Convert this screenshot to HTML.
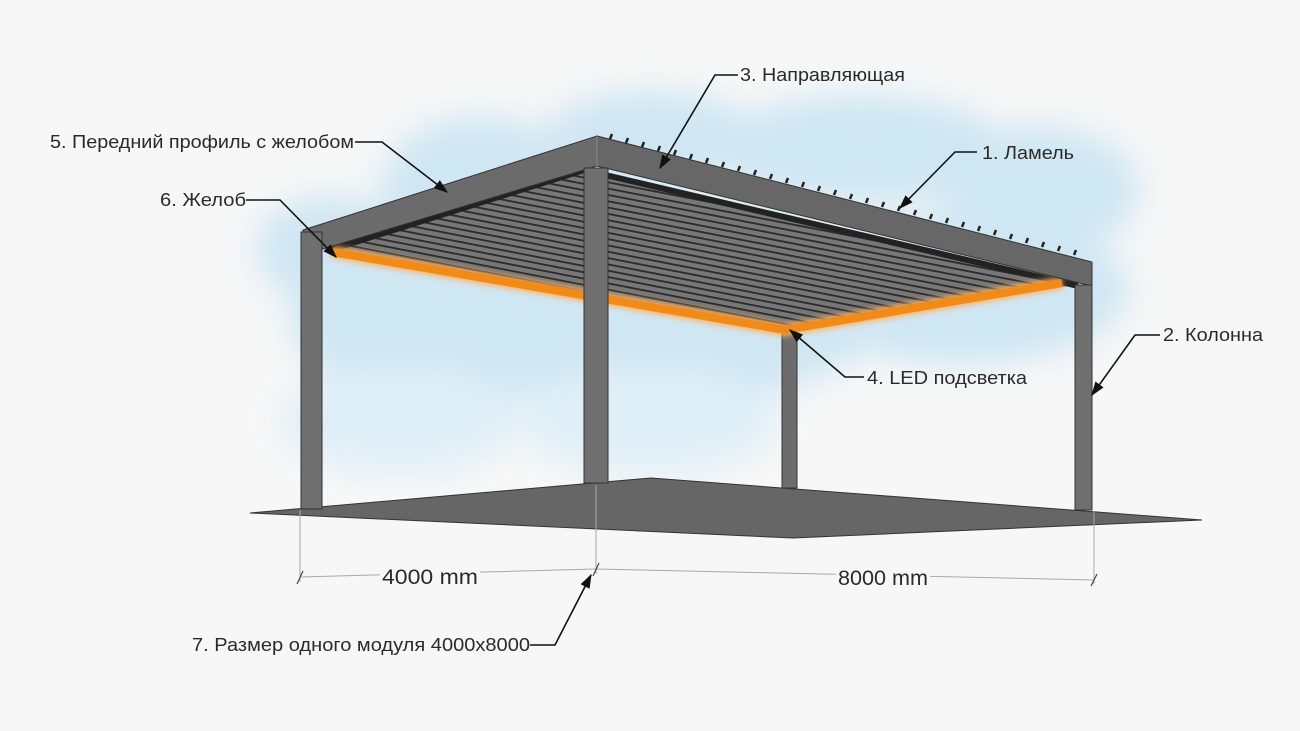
<!DOCTYPE html>
<html><head><meta charset="utf-8"><style>
html,body{margin:0;padding:0;background:#f7f7f7;}
svg{display:block}
text{font-family:"Liberation Sans",sans-serif;fill:#2a2a2a;}
</style></head><body>
<svg width="1300" height="731" viewBox="0 0 1300 731" xmlns="http://www.w3.org/2000/svg">
<defs>
<filter id="bl" x="-30%" y="-30%" width="160%" height="160%"><feGaussianBlur stdDeviation="16"/></filter>
<filter id="gl" x="-20%" y="-50%" width="140%" height="200%"><feGaussianBlur stdDeviation="3"/></filter>
<pattern id="slat" width="20" height="6.2" patternUnits="userSpaceOnUse" patternTransform="rotate(11)">
<rect width="20" height="6.2" fill="#777"/><rect y="0" width="20" height="1.8" fill="#2a2a2a"/>
</pattern>
<marker id="ar" viewBox="0 0 10 10" refX="9" refY="5" markerWidth="9" markerHeight="9" orient="auto-start-reverse"><path d="M0,1.5 L10,5 L0,8.5 z" fill="#111"/></marker>
</defs>
<rect width="1300" height="731" fill="#f7f7f7"/>
<g filter="url(#bl)" fill="#c9e4f3" opacity="0.85">
<ellipse cx="480" cy="190" rx="100" ry="75"/>
<ellipse cx="650" cy="140" rx="110" ry="50"/>
<ellipse cx="860" cy="150" rx="150" ry="55"/>
<ellipse cx="1040" cy="190" rx="100" ry="65"/>
<ellipse cx="330" cy="250" rx="75" ry="55"/>
<ellipse cx="450" cy="320" rx="160" ry="85"/>
<ellipse cx="700" cy="300" rx="190" ry="100"/>
<ellipse cx="960" cy="290" rx="170" ry="75"/>
<ellipse cx="400" cy="420" rx="120" ry="55" fill="#dbeef7"/>
<ellipse cx="650" cy="420" rx="130" ry="55" fill="#dbeef7"/>
</g>
<polygon points="250,513 651,478 1202,520 793,538" fill="#666" stroke="#333" stroke-width="1"/>
<rect x="782" y="330" width="15" height="158" fill="#6c6c6c" stroke="#333" stroke-width="1"/>
<polygon points="335,250 584,172 1075,285 785,333" fill="url(#slat)"/>
<polyline points="330,250 584,170 1078,286" fill="none" stroke="#222" stroke-width="6"/>
<g filter="url(#gl)"><polyline points="332,252 785,330 1062,283" fill="none" stroke="#ffb060" stroke-width="12"/></g>
<polyline points="332,252 785,330 1062,283" fill="none" stroke="#f28a17" stroke-width="8"/>
<polygon points="303,230 597,136 597,166 303,255" fill="#6b6b6b" stroke="#333" stroke-width="1"/>
<polygon points="597,136 1092,262 1092,286 597,166" fill="#676767" stroke="#333" stroke-width="1"/>
<g stroke="#222" stroke-width="2.5">
<line x1="610" y1="139" x2="612" y2="134"/><line x1="626" y1="143" x2="628" y2="138"/><line x1="642" y1="147" x2="644" y2="142"/><line x1="658" y1="151" x2="660" y2="146"/><line x1="674" y1="155" x2="676" y2="150"/><line x1="690" y1="159" x2="692" y2="154"/><line x1="706" y1="163" x2="708" y2="158"/><line x1="722" y1="167" x2="724" y2="162"/><line x1="738" y1="171" x2="740" y2="166"/><line x1="754" y1="175" x2="756" y2="170"/><line x1="770" y1="179" x2="772" y2="174"/><line x1="786" y1="183" x2="788" y2="178"/><line x1="802" y1="187" x2="804" y2="182"/><line x1="818" y1="191" x2="820" y2="186"/><line x1="834" y1="195" x2="836" y2="190"/><line x1="850" y1="199" x2="852" y2="194"/><line x1="866" y1="203" x2="868" y2="198"/><line x1="882" y1="207" x2="884" y2="202"/><line x1="898" y1="211" x2="900" y2="206"/><line x1="914" y1="215" x2="916" y2="210"/><line x1="930" y1="219" x2="932" y2="214"/><line x1="946" y1="223" x2="948" y2="218"/><line x1="962" y1="227" x2="964" y2="222"/><line x1="978" y1="231" x2="980" y2="226"/><line x1="994" y1="235" x2="996" y2="230"/><line x1="1010" y1="239" x2="1012" y2="234"/><line x1="1026" y1="243" x2="1028" y2="238"/><line x1="1042" y1="247" x2="1044" y2="242"/><line x1="1058" y1="251" x2="1060" y2="246"/><line x1="1074" y1="255" x2="1076" y2="250"/>
</g>
<rect x="301" y="232" width="21" height="277" fill="#6f6f6f" stroke="#333" stroke-width="1"/>
<rect x="584" y="168" width="24" height="315" fill="#6f6f6f" stroke="#333" stroke-width="1"/>
<rect x="1075" y="285" width="17" height="225" fill="#6f6f6f" stroke="#333" stroke-width="1"/>
<line x1="597" y1="136" x2="597" y2="168" stroke="#888" stroke-width="1"/>
<g stroke="#aaa" stroke-width="1" fill="none">
<line x1="300" y1="510" x2="300" y2="582"/><line x1="596" y1="485" x2="596" y2="574"/><line x1="1094" y1="511" x2="1094" y2="584"/>
<polyline points="300,577 596,569 1094,580"/>
</g>
<g stroke="#444" stroke-width="1.2"><line x1="297" y1="584" x2="303" y2="571"/><line x1="593" y1="576" x2="599" y2="563"/><line x1="1091" y1="586" x2="1097" y2="574"/></g>
<rect x="380" y="563" width="100" height="24" fill="#f7f7f7"/>
<rect x="836" y="565" width="94" height="24" fill="#f7f7f7"/>
<text x="382" y="584" font-size="21" textLength="96" lengthAdjust="spacingAndGlyphs">4000 mm</text>
<text x="838" y="585" font-size="21" textLength="90" lengthAdjust="spacingAndGlyphs">8000 mm</text>
<g stroke="#111" stroke-width="1.6" fill="none">
<polyline points="738,75 715,75 660,168" marker-end="url(#ar)"/>
<polyline points="355,142 382,142 447,192" marker-end="url(#ar)"/>
<polyline points="977,152 955,152 900,208" marker-end="url(#ar)"/>
<polyline points="246,200 280,200 336,257" marker-end="url(#ar)"/>
<polyline points="1160,335 1135,335 1092,395" marker-end="url(#ar)"/>
<polyline points="864,377 845,377 790,330" marker-end="url(#ar)"/>
<polyline points="530,645 555,645 591,575" marker-end="url(#ar)"/>
</g>
<g font-size="18">
<text x="740" y="81" textLength="165" lengthAdjust="spacingAndGlyphs">3. Направляющая</text>
<text x="50" y="148" textLength="304" lengthAdjust="spacingAndGlyphs">5. Передний профиль с желобом</text>
<text x="982" y="159" textLength="92" lengthAdjust="spacingAndGlyphs">1. Ламель</text>
<text x="160" y="206" textLength="86" lengthAdjust="spacingAndGlyphs">6. Желоб</text>
<text x="1163" y="341" textLength="100" lengthAdjust="spacingAndGlyphs">2. Колонна</text>
<text x="867" y="384" textLength="160" lengthAdjust="spacingAndGlyphs">4. LED подсветка</text>
<text x="192" y="651" textLength="338" lengthAdjust="spacingAndGlyphs">7. Размер одного модуля 4000x8000</text>
</g>
</svg>
</body></html>
